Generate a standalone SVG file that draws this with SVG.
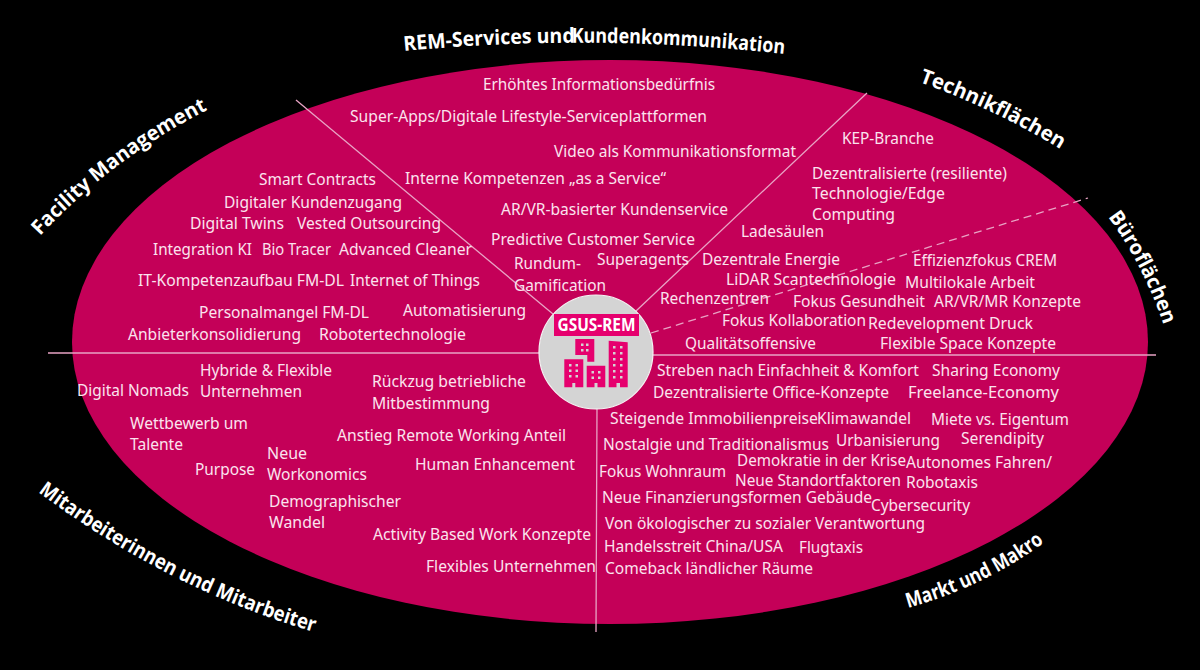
<svg xmlns="http://www.w3.org/2000/svg" width="1200" height="670" viewBox="0 0 1200 670">
<style>
text{font-family:"Noto Sans","Open Sans","Liberation Sans",sans-serif}
.t text{font-size:15.5px;fill:#fbe3ee}
.h{font-family:"Open Sans","Noto Sans",sans-serif;font-size:20.5px;font-weight:700;fill:#fff}
.l{stroke:#e8a3c4;stroke-width:1.3;fill:none}
.w{fill:#d4d4d4}
.b{fill:#e6006e}
</style>
<defs>
<path id="p1" d="M404 51Q594 33 785 54"/>
<path id="p2" d="M919 82Q990 107 1055 146"/>
<path id="p3" d="M1108 217Q1142 262 1164 326"/>
<path id="p4" d="M40 236Q110 160 207 110"/>
<path id="p5" d="M38 492Q170 590 314 632"/>
<path id="p6" d="M908 608Q990 585 1053 536"/>
</defs>
<rect width="1200" height="670" fill="#000"/>
<ellipse id="field" cx="610" cy="342" rx="538" ry="282" fill="#c40058"/>
<g id="connectors">
<path class="l" d="M48 353H540M652 355H1156M597 406L596 632M296 100L553 314M867 93L636 311"/>
<path class="l" stroke-dasharray="8 5" d="M651 333L1088 198"/>
</g>
<g id="titles">
<text class="h" textLength="171" lengthAdjust="spacingAndGlyphs"><textPath href="#p1">REM-Services und</textPath></text>
<text class="h" textLength="213" lengthAdjust="spacingAndGlyphs"><textPath href="#p1" startOffset="168">Kundenkommunikation</textPath></text>
<text class="h" textLength="157" lengthAdjust="spacingAndGlyphs"><textPath href="#p2">Technikflächen</textPath></text>
<text class="h" textLength="122" lengthAdjust="spacingAndGlyphs"><textPath href="#p3">Büroflächen</textPath></text>
<text class="h" textLength="211" lengthAdjust="spacingAndGlyphs"><textPath href="#p4">Facility Management</textPath></text>
<text class="h" textLength="311" lengthAdjust="spacingAndGlyphs"><textPath href="#p5">Mitarbeiterinnen und Mitarbeiter</textPath></text>
<text class="h" textLength="152" lengthAdjust="spacingAndGlyphs"><textPath href="#p6">Markt und Makro</textPath></text>
</g>
<g id="rem-services" class="t">
<text x="483" y="90" textLength="232" lengthAdjust="spacingAndGlyphs">Erhöhtes Informationsbedürfnis</text>
<text x="350" y="122" textLength="357" lengthAdjust="spacingAndGlyphs">Super-Apps/Digitale Lifestyle-Serviceplattformen</text>
<text x="554" y="157" textLength="242" lengthAdjust="spacingAndGlyphs">Video als Kommunikationsformat</text>
<text x="405" y="184" textLength="261" lengthAdjust="spacingAndGlyphs">Interne Kompetenzen „as a Service“</text>
<text x="501" y="215" textLength="227" lengthAdjust="spacingAndGlyphs">AR/VR-basierter Kundenservice</text>
<text x="491" y="245" textLength="204" lengthAdjust="spacingAndGlyphs">Predictive Customer Service</text>
<text x="514" y="269" textLength="67" lengthAdjust="spacingAndGlyphs">Rundum-</text>
<text x="514" y="291" textLength="92" lengthAdjust="spacingAndGlyphs">Gamification</text>
<text x="597" y="265" textLength="92" lengthAdjust="spacingAndGlyphs">Superagents</text>
</g>
<g id="technikflaechen" class="t">
<text x="842" y="144" textLength="92" lengthAdjust="spacingAndGlyphs">KEP-Branche</text>
<text x="812" y="179" textLength="195" lengthAdjust="spacingAndGlyphs">Dezentralisierte (resiliente)</text>
<text x="812" y="199" textLength="133" lengthAdjust="spacingAndGlyphs">Technologie/Edge</text>
<text x="812" y="220" textLength="83" lengthAdjust="spacingAndGlyphs">Computing</text>
<text x="741" y="237" textLength="83" lengthAdjust="spacingAndGlyphs">Ladesäulen</text>
<text x="702" y="265" textLength="138" lengthAdjust="spacingAndGlyphs">Dezentrale Energie</text>
<text x="726" y="285" textLength="170" lengthAdjust="spacingAndGlyphs">LiDAR Scantechnologie</text>
<text x="660" y="304" textLength="109" lengthAdjust="spacingAndGlyphs">Rechenzentren</text>
</g>
<g id="bueroflaechen" class="t">
<text x="793" y="307" textLength="132" lengthAdjust="spacingAndGlyphs">Fokus Gesundheit</text>
<text x="722" y="326" textLength="144" lengthAdjust="spacingAndGlyphs">Fokus Kollaboration</text>
<text x="685" y="349" textLength="131" lengthAdjust="spacingAndGlyphs">Qualitätsoffensive</text>
<text x="913" y="266" textLength="144" lengthAdjust="spacingAndGlyphs">Effizienzfokus CREM</text>
<text x="905" y="288" textLength="130" lengthAdjust="spacingAndGlyphs">Multilokale Arbeit</text>
<text x="934" y="307" textLength="147" lengthAdjust="spacingAndGlyphs">AR/VR/MR Konzepte</text>
<text x="868" y="329" textLength="165" lengthAdjust="spacingAndGlyphs">Redevelopment Druck</text>
<text x="880" y="349" textLength="176" lengthAdjust="spacingAndGlyphs">Flexible Space Konzepte</text>
</g>
<g id="facility-management" class="t">
<text x="259" y="185" textLength="117" lengthAdjust="spacingAndGlyphs">Smart Contracts</text>
<text x="224" y="208" textLength="178" lengthAdjust="spacingAndGlyphs">Digitaler Kundenzugang</text>
<text x="190" y="229" textLength="94" lengthAdjust="spacingAndGlyphs">Digital Twins</text>
<text x="297" y="229" textLength="144" lengthAdjust="spacingAndGlyphs">Vested Outsourcing</text>
<text x="153" y="255" textLength="99" lengthAdjust="spacingAndGlyphs">Integration KI</text>
<text x="262" y="255" textLength="69" lengthAdjust="spacingAndGlyphs">Bio Tracer</text>
<text x="339" y="255" textLength="133" lengthAdjust="spacingAndGlyphs">Advanced Cleaner</text>
<text x="138" y="286" textLength="206" lengthAdjust="spacingAndGlyphs">IT-Kompetenzaufbau FM-DL</text>
<text x="350" y="286" textLength="130" lengthAdjust="spacingAndGlyphs">Internet of Things</text>
<text x="199" y="318" textLength="170" lengthAdjust="spacingAndGlyphs">Personalmangel FM-DL</text>
<text x="403" y="316" textLength="123" lengthAdjust="spacingAndGlyphs">Automatisierung</text>
<text x="128" y="340" textLength="173" lengthAdjust="spacingAndGlyphs">Anbieterkonsolidierung</text>
<text x="319" y="340" textLength="147" lengthAdjust="spacingAndGlyphs">Robotertechnologie</text>
</g>
<g id="markt-und-makro" class="t">
<text x="657" y="376" textLength="262" lengthAdjust="spacingAndGlyphs">Streben nach Einfachheit &amp; Komfort</text>
<text x="932" y="376" textLength="128" lengthAdjust="spacingAndGlyphs">Sharing Economy</text>
<text x="653" y="398" textLength="236" lengthAdjust="spacingAndGlyphs">Dezentralisierte Office-Konzepte</text>
<text x="908" y="398" textLength="151" lengthAdjust="spacingAndGlyphs">Freelance-Economy</text>
<text x="610" y="424" textLength="208" lengthAdjust="spacingAndGlyphs">Steigende Immobilienpreise</text>
<text x="817" y="424" textLength="94" lengthAdjust="spacingAndGlyphs">Klimawandel</text>
<text x="931" y="425" textLength="138" lengthAdjust="spacingAndGlyphs">Miete vs. Eigentum</text>
<text x="603" y="450" textLength="226" lengthAdjust="spacingAndGlyphs">Nostalgie und Traditionalismus</text>
<text x="836" y="446" textLength="104" lengthAdjust="spacingAndGlyphs">Urbanisierung</text>
<text x="961" y="444" textLength="83" lengthAdjust="spacingAndGlyphs">Serendipity</text>
<text x="599" y="477" textLength="127" lengthAdjust="spacingAndGlyphs">Fokus Wohnraum</text>
<text x="737" y="466" textLength="169" lengthAdjust="spacingAndGlyphs">Demokratie in der Krise</text>
<text x="906" y="468" textLength="146" lengthAdjust="spacingAndGlyphs">Autonomes Fahren/</text>
<text x="735" y="486" textLength="166" lengthAdjust="spacingAndGlyphs">Neue Standortfaktoren</text>
<text x="906" y="488" textLength="72" lengthAdjust="spacingAndGlyphs">Robotaxis</text>
<text x="602" y="503" textLength="270" lengthAdjust="spacingAndGlyphs">Neue Finanzierungsformen Gebäude</text>
<text x="871" y="511" textLength="99" lengthAdjust="spacingAndGlyphs">Cybersecurity</text>
<text x="605" y="529" textLength="320" lengthAdjust="spacingAndGlyphs">Von ökologischer zu sozialer Verantwortung</text>
<text x="604" y="552" textLength="179" lengthAdjust="spacingAndGlyphs">Handelsstreit China/USA</text>
<text x="799" y="553" textLength="64" lengthAdjust="spacingAndGlyphs">Flugtaxis</text>
<text x="605" y="574" textLength="208" lengthAdjust="spacingAndGlyphs">Comeback ländlicher Räume</text>
</g>
<g id="mitarbeiter" class="t">
<text x="77" y="396" textLength="112" lengthAdjust="spacingAndGlyphs">Digital Nomads</text>
<text x="200" y="376" textLength="132" lengthAdjust="spacingAndGlyphs">Hybride &amp; Flexible</text>
<text x="200" y="397" textLength="102" lengthAdjust="spacingAndGlyphs">Unternehmen</text>
<text x="372" y="387" textLength="154" lengthAdjust="spacingAndGlyphs">Rückzug betriebliche</text>
<text x="372" y="409" textLength="118" lengthAdjust="spacingAndGlyphs">Mitbestimmung</text>
<text x="130" y="429" textLength="118" lengthAdjust="spacingAndGlyphs">Wettbewerb um</text>
<text x="130" y="450" textLength="53" lengthAdjust="spacingAndGlyphs">Talente</text>
<text x="195" y="475" textLength="60" lengthAdjust="spacingAndGlyphs">Purpose</text>
<text x="267" y="459" textLength="40" lengthAdjust="spacingAndGlyphs">Neue</text>
<text x="267" y="480" textLength="100" lengthAdjust="spacingAndGlyphs">Workonomics</text>
<text x="337" y="441" textLength="229" lengthAdjust="spacingAndGlyphs">Anstieg Remote Working Anteil</text>
<text x="415" y="470" textLength="160" lengthAdjust="spacingAndGlyphs">Human Enhancement</text>
<text x="269" y="507" textLength="132" lengthAdjust="spacingAndGlyphs">Demographischer</text>
<text x="269" y="528" textLength="56" lengthAdjust="spacingAndGlyphs">Wandel</text>
<text x="373" y="540" textLength="218" lengthAdjust="spacingAndGlyphs">Activity Based Work Konzepte</text>
<text x="426" y="572" textLength="170" lengthAdjust="spacingAndGlyphs">Flexibles Unternehmen</text>
</g>
<g id="center">
<circle cx="596" cy="352" r="57" fill="#d4d4d4" stroke="#f4f4f4" stroke-width="1.2"/>
<rect x="554" y="314" width="85" height="22" class="b"/>
<text x="596.500" y="331" text-anchor="middle" font-size="17" font-weight="700" fill="#fff" textLength="78" lengthAdjust="spacingAndGlyphs">GSUS-REM</text>
<path class="b" d="M575.300 339H594.300V361.700H587.300V355H575.300Z"/>
<path class="b" d="M564.300 359.300H583.300V387.300H575.300V383H572.300V387.300H564.300Z"/>
<path class="b" d="M586.700 365.700H605.300V387.300H597.500V383H594.500V387.300H586.700Z"/>
<path class="b" d="M608.700 340.700L627.700 342.300V387.300H620V383H616.500V387.300H608.700Z"/>
<g class="w">
<rect x="581" y="343.500" width="2.500" height="2.500"/><rect x="586" y="343.500" width="2.500" height="2.500"/><rect x="581" y="349" width="2.500" height="2.500"/><rect x="586" y="349" width="2.500" height="2.500"/>
<rect x="569" y="364" width="2.500" height="2.500"/><rect x="575.500" y="364" width="2.500" height="2.500"/><rect x="569" y="369.500" width="2.500" height="2.500"/><rect x="575.500" y="369.500" width="2.500" height="2.500"/><rect x="569" y="375" width="2.500" height="2.500"/><rect x="575.500" y="375" width="2.500" height="2.500"/>
<rect x="591.500" y="371" width="2.500" height="2.500"/><rect x="598" y="371" width="2.500" height="2.500"/><rect x="591.500" y="376.500" width="2.500" height="2.500"/><rect x="598" y="376.500" width="2.500" height="2.500"/>
<rect x="613" y="346" width="2.500" height="2.500"/><rect x="620" y="346" width="2.500" height="2.500"/><rect x="613" y="352" width="2.500" height="2.500"/><rect x="620" y="352" width="2.500" height="2.500"/><rect x="613" y="358" width="2.500" height="2.500"/><rect x="620" y="358" width="2.500" height="2.500"/><rect x="613" y="364" width="2.500" height="2.500"/><rect x="620" y="364" width="2.500" height="2.500"/><rect x="613" y="370" width="2.500" height="2.500"/><rect x="620" y="370" width="2.500" height="2.500"/><rect x="613" y="376" width="2.500" height="2.500"/><rect x="620" y="376" width="2.500" height="2.500"/>
</g>
</g>
</svg>
